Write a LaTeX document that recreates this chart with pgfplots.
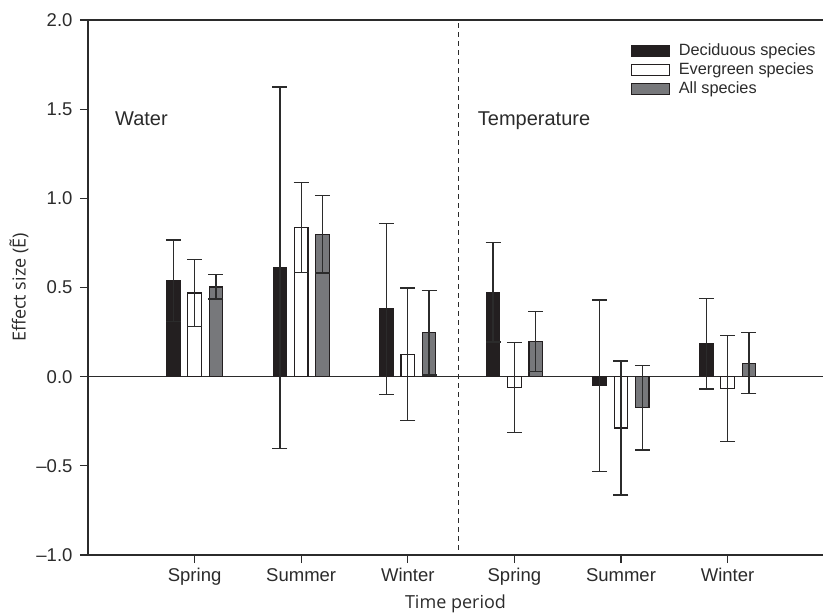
\documentclass[border=0pt]{standalone}
\usepackage{pgfplots}
\pgfplotsset{compat=1.18}
\usepackage{fontspec}
\setmainfont{Liberation Sans}
\newfontfamily\osans{Open Sans}
\definecolor{barblack}{HTML}{231F20}
\definecolor{bargray}{HTML}{77787B}
\definecolor{linegray}{HTML}{2B2B2B}
\begin{document}
\begin{tikzpicture}
\useasboundingbox (-88pt,-59pt) rectangle (735pt,555pt);
\begin{axis}[
  scale only axis,
  width=746.2pt, height=535pt,
  xmin=0, xmax=7, ymin=-1, ymax=2,
  xtick={1,2,3,4,5,6},
  xticklabels={Spring,Summer,Winter,Spring,Summer,Winter},
  ytick={-1,-0.5,0,0.5,1,1.5,2},
  yticklabels={–1.0,–0.5,0.0,0.5,1.0,1.5,2.0},
  xtick pos=bottom, ytick pos=left,
  tick align=outside,
  major tick length=8pt,
  tick style={line width=1.3pt, color=linegray},
  axis line style={line width=1.3pt, color=linegray},
  ticklabel style={font=\fontsize{18.5}{20}\selectfont, color=linegray},
  yticklabel style={xshift=-4pt},
  xticklabel style={yshift=-2pt},
  xlabel={\osans Time period},
  ylabel={\osans Effect size (Ẽ)},
  label style={font=\fontsize{18}{20}\selectfont, color=linegray},
  xlabel style={at={(axis description cs:0.4925,0)}, anchor=north, yshift=-36pt},
  ylabel style={at={(axis description cs:0,0.5)}, anchor=south, yshift=56pt},
  ybar,
  bar width=13.5pt,
  legend image code/.code={\draw[#1, line width=1.1pt] (0pt,-5.5pt) rectangle (38pt,5.5pt);},
  legend style={at={(axis description cs:0.7277,0.9594)}, anchor=north west,
    draw=none, fill=none, inner sep=0pt,
    font=\fontsize{16.3}{18}\selectfont, text=linegray,
    row sep=1pt,
    /tikz/every odd column/.append style={column sep=7pt},
    nodes={inner sep=1.5pt, text height=12pt, text depth=3pt}},
  legend cell align=left,
  every axis plot/.append style={line width=1.2pt},
  error bars/y dir=both, error bars/y explicit,
  error bars/error bar style={line width=1.3pt, color=linegray},
  error bars/error mark options={line width=1.3pt, color=linegray, mark size=7.5pt, rotate=90},
]
\draw[line width=1.3pt, color=linegray] (axis cs:0,0) -- (axis cs:7,0);
\addplot[fill=barblack, draw=barblack, bar shift=-21.3pt] coordinates {
 (1,0.538) +- (0,0.228)
 (2,0.611) +- (0,1.013)
 (3,0.380) +- (0,0.479)
 (4,0.473) +- (0,0.278)
 (5,-0.050) +- (0,0.480)
 (6,0.185) +- (0,0.254)
};
\addlegendentry{Deciduous species}
\addplot[fill=white, draw=barblack, bar shift=0pt] coordinates {
 (1,0.469) +- (0,0.189)
 (2,0.836) +- (0,0.252)
 (3,0.126) +- (0,0.371)
 (4,-0.060) +- (0,0.253)
 (5,-0.288) +- (0,0.376)
 (6,-0.067) +- (0,0.296)
};
\addlegendentry{Evergreen species}
\addplot[fill=bargray, draw=barblack, bar shift=21.3pt] coordinates {
 (1,0.503) +- (0,0.068)
 (2,0.799) +- (0,0.217)
 (3,0.247) +- (0,0.237)
 (4,0.196) +- (0,0.168)
 (5,-0.174) +- (0,0.238)
 (6,0.075) +- (0,0.171)
};
\addlegendentry{All species}
\draw[line width=1.1pt, color=linegray, dash pattern=on 5pt off 4pt] (axis cs:3.478,-0.97) -- (axis cs:3.478,1.99);
\node[anchor=base west, font=\fontsize{20}{22}\selectfont, text=linegray, inner sep=0pt] at (axis cs:0.253,1.406) {Water};
\node[anchor=base west, font=\fontsize{20}{22}\selectfont, text=linegray, inner sep=0pt] at (axis cs:3.656,1.406) {Temperature};
\end{axis}
\end{tikzpicture}
\end{document}
